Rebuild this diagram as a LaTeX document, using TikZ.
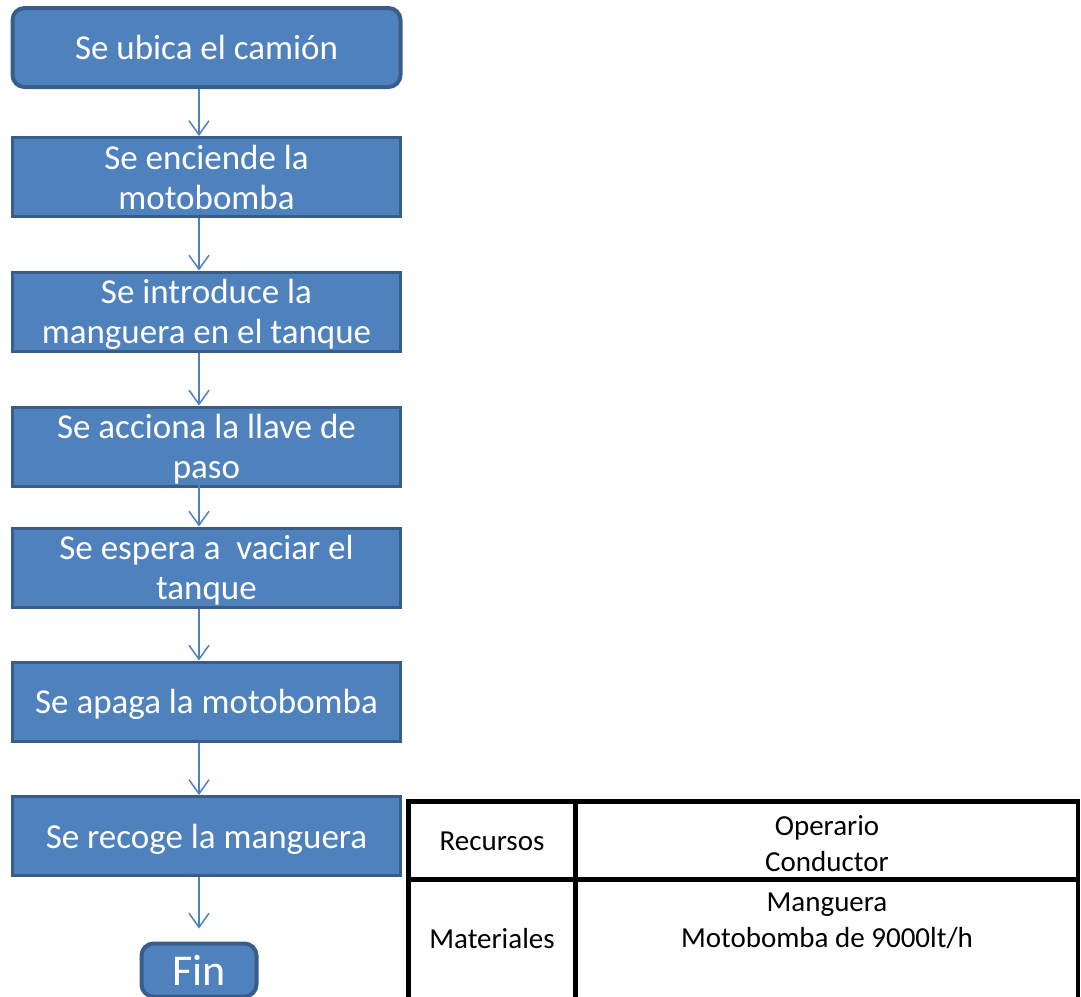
\documentclass[tikz,border=0pt]{standalone}
\usepackage{fontspec}
\setmainfont{Carlito}
\usetikzlibrary{positioning}
\usetikzlibrary{arrows.meta}

\definecolor{boxfill}{HTML}{4F81BD}
\definecolor{boxline}{HTML}{385D8A}

\begin{document}
\begin{tikzpicture}[x=1pt,y=-1pt,node distance=134.5pt,on grid,%
  paso/.style={rectangle,draw=boxline,line width=3pt,fill=boxfill,%
    minimum width=388pt,minimum height=79pt,inner sep=0pt,text depth=0pt,%
    text=white,align=center,font=\fontsize{35}{40}\selectfont},%
  inicio/.style={paso,rounded corners=12pt,line width=4pt},%
  flecha/.style={draw=boxfill,line width=1.5pt,%
    -{Straight Barb[length=14pt,width=20pt]}},%
  tabla/.style={draw=black,line width=4.5pt},%
  celda/.style={inner sep=0pt,align=center,font=\fontsize{29}{36}\selectfont}]
  \clip (0,0) rectangle (1081,996);

  \node[inicio] (ubica)                          at (206.5,47.5) {Se ubica el cami\'on};
  \node[paso]   (enciende) [below=129.5pt of ubica]    {Se enciende la\\motobomba};
  \node[paso]   (manguera) [below=of enciende]          {Se introduce la\\manguera en el tanque};
  \node[paso]   (llave)    [below=135pt of manguera]    {Se acciona la llave de\\paso};
  \node[paso]   (espera)   [below=121pt of llave]       {Se espera a\ \ vaciar el\\tanque};
  \node[paso]   (apaga)    [below=134pt of espera]      {Se apaga la motobomba};
  \node[paso]   (recoge)   [below=of apaga]             {Se recoge la manguera};
  \node[inicio,minimum width=115pt,minimum height=53pt,%
        font=\fontsize{44}{50}\selectfont] (fin) at (199,970) {Fin};

  \foreach \a/\b in {ubica/enciende,enciende/manguera,manguera/llave,%
                     espera/apaga,apaga/recoge}
    \draw[flecha] (\a.south -| fin) -- (\b.north -| fin);
  \draw[flecha,shorten <=-11pt] (llave.south -| fin) -- (espera.north -| fin);
  \draw[flecha,shorten >=13pt]  (recoge.south -| fin) -- (fin.north);

  % tabla de recursos
  \draw[tabla] (408.5,801.5) rectangle (1078,1010);
  \draw[tabla] (575.5,801.5) -- (575.5,1010);
  \draw[tabla] (408.5,879.5) -- (1078,879.5);

  \node[celda] (recursos)   at (492,841)   {Recursos};
  \node[celda] (personal)   at (827,844)   {Operario\\Conductor};
  \node[celda] (materiales) at (492,939)   {Materiales};
  \node[celda] (equipos)    at (827,921)   {Manguera\\Motobomba de 9000lt/h};
\end{tikzpicture}
\end{document}
